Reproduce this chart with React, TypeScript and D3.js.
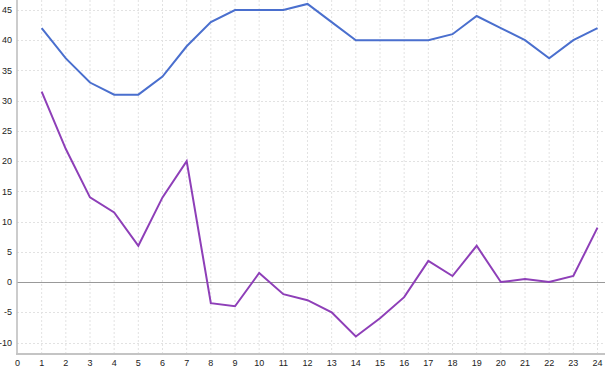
import React from "react";
import * as d3 from "d3";

const hours = d3.range(1, 25);
const blueValues = [42, 37, 33, 31, 31, 34, 39, 43, 45, 45, 45, 46, 43, 40, 40, 40, 40, 41, 44, 42, 40, 37, 40, 42];
const purpleValues = [31.5, 22, 14, 11.5, 6, 14, 20, -3.5, -4, 1.5, -2, -3, -5, -9, -6, -2.5, 3.5, 1, 6, 0, 0.5, 0, 1, 9];
const xTicks = d3.range(0, 25);
const yTicks = [-10, -5, 0, 5, 10, 15, 20, 25, 30, 35, 40, 45];

const W = 605;
const H = 368;

const App: React.FC = () => {
  const x = d3.scaleLinear().domain([0, 24]).range([17.5, 597.5]);
  const y = d3.scaleLinear().domain([-10, 45]).range([342.5, 10]);
  const bottom = 354;

  const line = d3
    .line<number>()
    .x((d, i) => x(hours[i]))
    .y((d) => y(d));

  return (
    <svg width={W} height={H} style={{ position: "absolute", left: 0, top: 0, fontFamily: "Liberation Sans, Arial, sans-serif" }}>
      <rect width={W} height={H} fill="#fff" />
      {/* grid */}
      {xTicks.slice(1).map((t) => (
        <line key={"vx" + t} x1={x(t)} x2={x(t)} y1={0} y2={bottom} stroke="#e2e2e2" strokeDasharray="2,2" />
      ))}
      {yTicks.filter((t) => t !== 0).map((t) => (
        <line key={"hy" + t} x1={17} x2={W} y1={Math.round(y(t)) + 0.5} y2={Math.round(y(t)) + 0.5} stroke="#e2e2e2" strokeDasharray="2,2" />
      ))}
      {/* zero line */}
      <line x1={17} x2={W} y1={Math.round(y(0)) + 0.5} y2={Math.round(y(0)) + 0.5} stroke="#999" strokeWidth={1} />
      {/* axes */}
      <line x1={17} x2={17} y1={0} y2={bottom + 1} stroke="#bbb" strokeWidth={1.5} />
      <line x1={16} x2={W} y1={bottom} y2={bottom} stroke="#c4c4c4" strokeWidth={2} />
      {yTicks.map((t) => (
        <text key={"yl" + t} x={12} y={y(t)} dy="0.35em" textAnchor="end" fontSize={9} fill="#222">
          {t}
        </text>
      ))}
      {xTicks.map((t) => (
        <text key={"xl" + t} x={x(t)} y={362.5} dy="0.35em" textAnchor="middle" fontSize={9} fill="#222">
          {t}
        </text>
      ))}
      <path d={line(blueValues) || ""} fill="none" stroke="#4a6fce" strokeWidth={2} />
      <path d={line(purpleValues) || ""} fill="none" stroke="#8e3fb8" strokeWidth={2} />
    </svg>
  );
};

export default App;
